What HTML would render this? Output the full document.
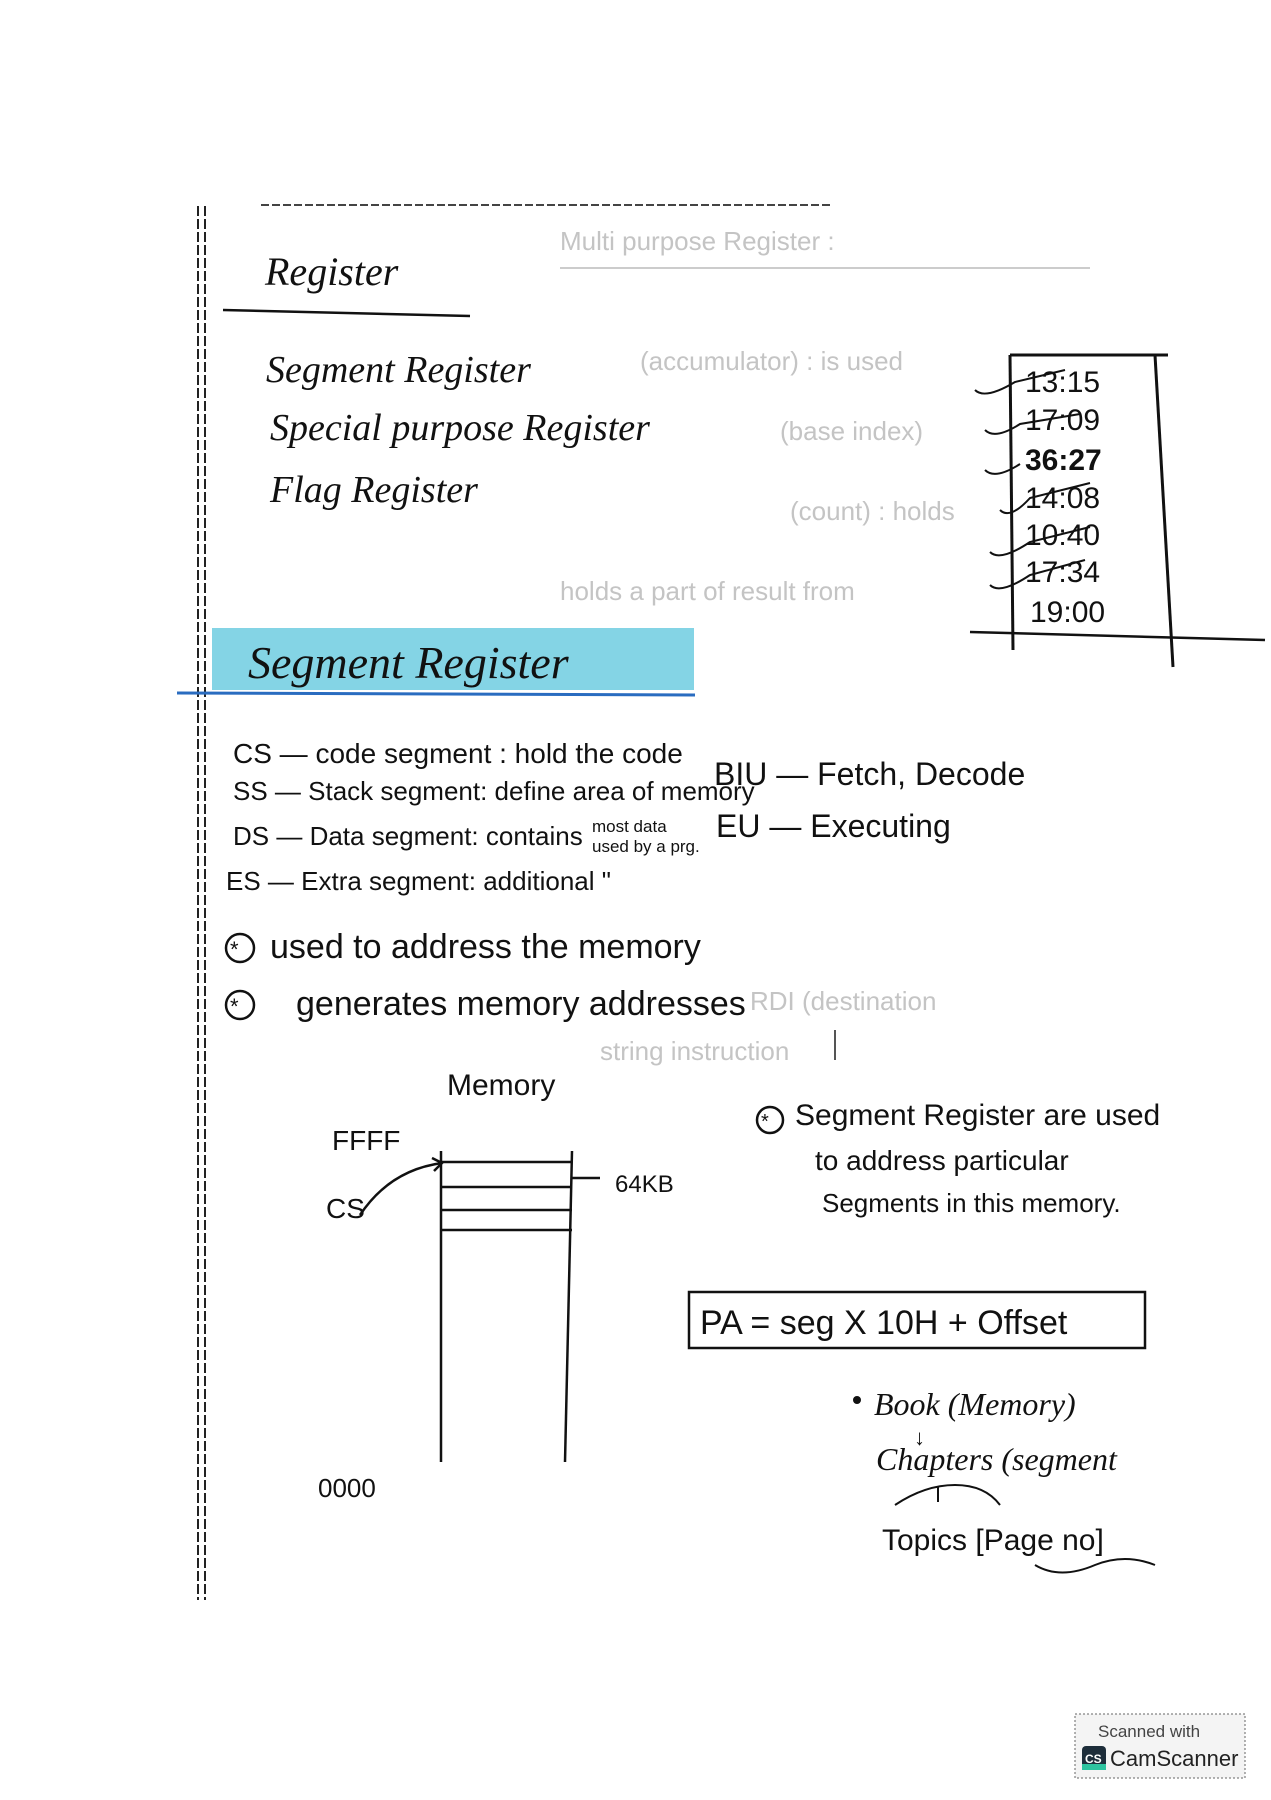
<!DOCTYPE html>
<html><head><meta charset="utf-8"><style>
html,body{margin:0;padding:0;background:#fff}
svg{display:block}
text{font-family:"Liberation Sans",sans-serif;fill:#111}
.h{font-family:"Liberation Serif",serif;font-style:italic}
.f{fill:#c4c4c4;font-size:26px}
</style></head><body>
<svg width="1271" height="1800" viewBox="0 0 1271 1800" xmlns="http://www.w3.org/2000/svg">
<rect width="1271" height="1800" fill="#fff"/>
<line x1="198" y1="206" x2="198" y2="1600" stroke="#222" stroke-width="2" stroke-dasharray="10,3"/>
<line x1="205" y1="206" x2="205" y2="1600" stroke="#222" stroke-width="2" stroke-dasharray="10,3"/>
<line x1="261" y1="205" x2="830" y2="205" stroke="#444" stroke-width="2" stroke-dasharray="8,3"/>
<text x="560" y="250" class="f">Multi purpose Register :</text>
<line x1="560" y1="268" x2="1090" y2="268" stroke="#ccc" stroke-width="2"/>
<text x="640" y="370" class="f">(accumulator) : is used</text>
<text x="780" y="440" class="f">(base index)</text>
<text x="790" y="520" class="f">(count) : holds</text>
<text x="560" y="600" class="f">holds a part of result from</text>
<text x="600" y="1060" class="f">string instruction</text>
<text x="750" y="1010" class="f">RDI (destination</text>
<text x="265" y="285" font-size="40" class="h">Register</text>
<line x1="223" y1="310" x2="470" y2="316" stroke="#111" stroke-width="2.5"/>
<text x="266" y="382" font-size="38" class="h">Segment Register</text>
<text x="270" y="440" font-size="38" class="h">Special purpose Register</text>
<text x="270" y="502" font-size="38" class="h">Flag Register</text>
<line x1="1010" y1="355" x2="1013" y2="650" stroke="#111" stroke-width="3"/>
<line x1="1010" y1="355" x2="1168" y2="355" stroke="#111" stroke-width="3"/>
<line x1="1155" y1="355" x2="1173" y2="667" stroke="#111" stroke-width="3"/>
<line x1="970" y1="632" x2="1265" y2="640" stroke="#111" stroke-width="2.5"/>
<g font-size="30">
<text x="1025" y="392">13:15</text>
<text x="1025" y="430">17:09</text>
<text x="1025" y="470" font-weight="bold">36:27</text>
<text x="1025" y="508">14:08</text>
<text x="1025" y="545">10:40</text>
<text x="1025" y="582">17:34</text>
<text x="1030" y="622">19:00</text>
</g>
<g stroke="#111" stroke-width="2" fill="none">
<path d="M975 390 q10 10 40 -8 l50 -12"/><path d="M985 430 q10 10 35 -6 l60 -10"/>
<path d="M985 470 q10 10 35 -6"/><path d="M1000 510 q10 10 30 -12 l60 -15"/>
<path d="M990 552 q10 10 40 -10 l60 -15"/><path d="M990 585 q10 10 40 -10 l55 -15"/>
</g>
<rect x="212" y="628" width="482" height="62" fill="#5bc6dc" opacity="0.75"/>
<line x1="177" y1="693" x2="695" y2="695" stroke="#2a6cc0" stroke-width="3"/>
<text x="248" y="678" font-size="46" class="h">Segment Register</text>
<g font-size="28">
<text x="233" y="763">CS — code segment : hold the code</text>
<text x="233" y="800" font-size="26">SS — Stack segment: define area of memory</text>
<text x="233" y="845" font-size="26">DS — Data segment: contains</text>
<text x="226" y="890" font-size="26">ES — Extra segment: additional "</text>
</g>
<text x="592" y="832" font-size="17">most data</text>
<text x="592" y="852" font-size="17">used by a prg.</text>
<text x="714" y="785" font-size="32">BIU — Fetch, Decode</text>
<text x="716" y="837" font-size="32">EU — Executing</text>
<circle cx="240" cy="948" r="14" fill="none" stroke="#111" stroke-width="2.5"/><text x="230" y="957" font-size="22">*</text>
<text x="270" y="958" font-size="34">used to address the memory</text>
<circle cx="240" cy="1005" r="14" fill="none" stroke="#111" stroke-width="2.5"/><text x="230" y="1014" font-size="22">*</text>
<text x="296" y="1015" font-size="34">generates memory addresses</text>
<line x1="835" y1="1060" x2="835" y2="1030" stroke="#555" stroke-width="2"/>
<text x="447" y="1095" font-size="30">Memory</text>
<text x="332" y="1150" font-size="28">FFFF</text>
<text x="326" y="1218" font-size="28">CS</text>
<text x="615" y="1192" font-size="24">64KB</text>
<text x="318" y="1497" font-size="26">0000</text>
<g stroke="#111" stroke-width="2.5" fill="none">
<line x1="441" y1="1151" x2="441" y2="1462"/>
<line x1="572" y1="1151" x2="565" y2="1462"/>
<line x1="441" y1="1162" x2="572" y2="1162"/>
<line x1="441" y1="1187" x2="572" y2="1187"/>
<line x1="441" y1="1210" x2="572" y2="1210"/>
<line x1="441" y1="1230" x2="572" y2="1230"/>
<line x1="572" y1="1178" x2="600" y2="1178"/>
<path d="M360 1215 q30 -45 82 -52"/>
<path d="M432 1158 l10 5 -8 8"/>
</g>
<circle cx="770" cy="1120" r="13" fill="none" stroke="#111" stroke-width="2.5"/><text x="761" y="1128" font-size="20">*</text>
<text x="795" y="1125" font-size="30">Segment Register are used</text>
<text x="815" y="1170" font-size="28">to address particular</text>
<text x="822" y="1212" font-size="26">Segments in this memory.</text>
<rect x="689" y="1292" width="456" height="56" fill="none" stroke="#111" stroke-width="2.5"/>
<text x="700" y="1334" font-size="34">PA = seg X 10H + Offset</text>
<circle cx="857" cy="1400" r="4" fill="#111"/>
<text x="874" y="1415" font-size="32" class="h">Book (Memory)</text>
<text x="914" y="1445" font-size="22">↓</text>
<text x="876" y="1470" font-size="32" class="h">Chapters (segment</text>
<path d="M895 1505 q30 -20 60 -20 q30 0 45 20 M938 1487 v15" stroke="#111" stroke-width="2" fill="none"/>
<text x="882" y="1550" font-size="30">Topics [Page no]</text>
<path d="M1035 1565 q25 15 60 0 q30 -12 60 0" stroke="#111" stroke-width="2" fill="none"/>
<rect x="1075" y="1714" width="170" height="64" fill="#f4f4f4" stroke="#666" stroke-dasharray="2,2"/>
<text x="1098" y="1737" font-size="17" style="fill:#444">Scanned with</text>
<rect x="1082" y="1746" width="24" height="24" rx="4" fill="#1d2d3a"/>
<rect x="1082" y="1764" width="24" height="6" fill="#2ec4a0"/>
<text x="1085" y="1763" font-size="12" style="fill:#fff" font-weight="bold">CS</text>
<text x="1110" y="1766" font-size="22" style="fill:#222">CamScanner</text>
</svg>
</body></html>
